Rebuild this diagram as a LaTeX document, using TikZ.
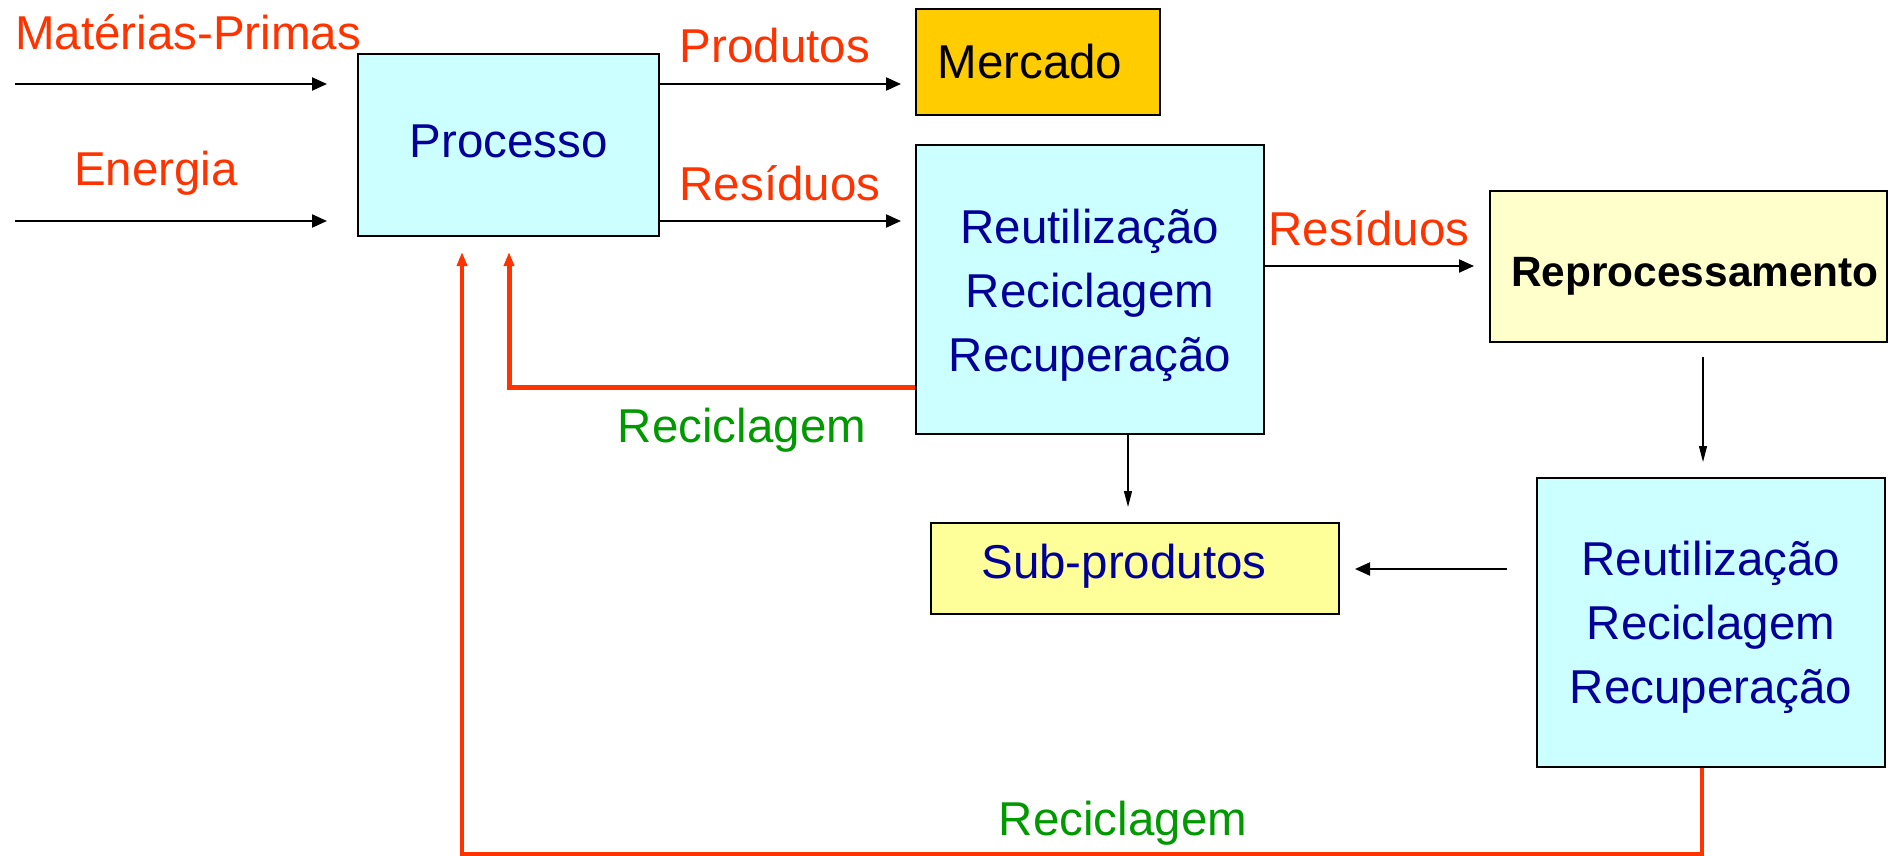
\documentclass[tikz,border=0pt]{standalone}
\usepackage{fontspec}
\setmainfont{Liberation Sans}
\usetikzlibrary{arrows.meta,calc}
\definecolor{redtxt}{HTML}{FF3300}
\definecolor{navy}{HTML}{000099}
\definecolor{greentxt}{HTML}{009900}
\definecolor{cyanbox}{HTML}{CCFFFF}
\definecolor{goldbox}{HTML}{FFCC00}
\definecolor{paleyellow}{HTML}{FFFFCC}
\definecolor{yellowbox}{HTML}{FFFF99}
\begin{document}
\begin{tikzpicture}[x=0.5pt,y=-0.5pt,
  every node/.style={font=\fontsize{23.75}{32}\selectfont, inner sep=0pt},
  boxnode/.style={draw=black, line width=1.2pt, align=center},
  lbl/.style={anchor=base, text=redtxt},
  glbl/.style={anchor=base, text=greentxt},
  blk/.style={line width=1.1pt, -{Triangle[length=7.5pt,width=6.5pt]}},
  thin/.style={line width=0.6pt, -{Triangle[length=8pt,width=4pt]}},
  redl/.style={draw=redtxt, -{Triangle[length=7pt,width=5pt]}}
]
\useasboundingbox (0,0) rectangle (1890,856);
% boxes
\node[boxnode, fill=cyanbox, minimum width=150.5pt, minimum height=91pt] (proc) at (508.5,145) {};
\node[text=navy] (proct) at (508.5,141) {Processo};
\node[boxnode, fill=goldbox, minimum width=122pt, minimum height=53pt] (merc) at (1038,62) {};
\node (merct) at (1030,62) {Mercado};
\node[boxnode, fill=cyanbox, minimum width=174pt, minimum height=144.5pt] (box1) at (1090,289.5) {};
\node[text=navy, align=center] (box1t) at (1090,295) {Reutilização\\Reciclagem\\Recuperação};
\node[boxnode, fill=paleyellow, minimum width=198.5pt, minimum height=75.5pt] (reproc) at (1688.5,266.5) {};
\node[font=\fontsize{21.2}{26}\selectfont\bfseries] (reproct) at (1695,276) {Reprocessamento};
\node[boxnode, fill=cyanbox, minimum width=174pt, minimum height=144.5pt] (box2) at (1711,622.5) {};
\node[text=navy, align=center] (box2t) at (1711,627) {Reutilização\\Reciclagem\\Recuperação};
\node[boxnode, fill=yellowbox, minimum width=204pt, minimum height=45.5pt] (sub) at (1135,568.5) {};
\node[text=navy] (subt) at (1124,566) {Sub-produtos};
% labels
\node[lbl] (tmp) at (188,50) {Matérias-Primas};
\node[lbl] (ten) at (156,185) {Energia};
\node[lbl] (tprod) at (775,63) {Produtos};
\node[lbl] (tres1) at (780,200) {Resíduos};
\node[lbl] (tres2) at (1369,245) {Resíduos};
\node[glbl] (trec1) at (742,442) {Reciclagem};
\node[glbl] (trec2) at (1123,835) {Reciclagem};
% coordinates
\coordinate (mpA) at (15,84);
\coordinate (mpB) at (327,84);
\coordinate (enA) at (15,221);
\coordinate (enB) at (327,221);
\coordinate (prB) at (901,84);
\coordinate (reB) at (901,221);
\coordinate (r2y) at (0,266);
\coordinate (r2B) at (1474,266);
\coordinate (rpA) at (1703,357);
\coordinate (rpB) at (1703,462);
\coordinate (b1B) at (1128,507);
\coordinate (b2A) at (1507,569);
\coordinate (b2B) at (1355,569);
\coordinate (rl1) at (509,387);
\coordinate (rl1T) at (509,252);
\coordinate (rl2x) at (1702,0);
\coordinate (rl2a) at (1702,854);
\coordinate (rl2b) at (462,854);
\coordinate (rl2T) at (462,252);
% black arrows
\draw[blk] (mpA) -- (mpB);
\draw[blk] (enA) -- (enB);
\draw[blk] (proc.east |- mpA) -- (prB);
\draw[blk] (proc.east |- enA) -- (reB);
\draw[blk] (box1.east |- r2y) -- (r2B);
\draw[thin] (rpA) -- (rpB);
\draw[thin] (box1.south -| b1B) -- (b1B);
\draw[blk] (b2A) -- (b2B);
% red recycling lines
\draw[redl, line width=2.5pt] (box1.west |- rl1) -- (rl1) -- (rl1T);
\draw[redl, line width=2pt] (box2.south -| rl2x) -- (rl2a) -- (rl2b) -- (rl2T);
\end{tikzpicture}
\end{document}
